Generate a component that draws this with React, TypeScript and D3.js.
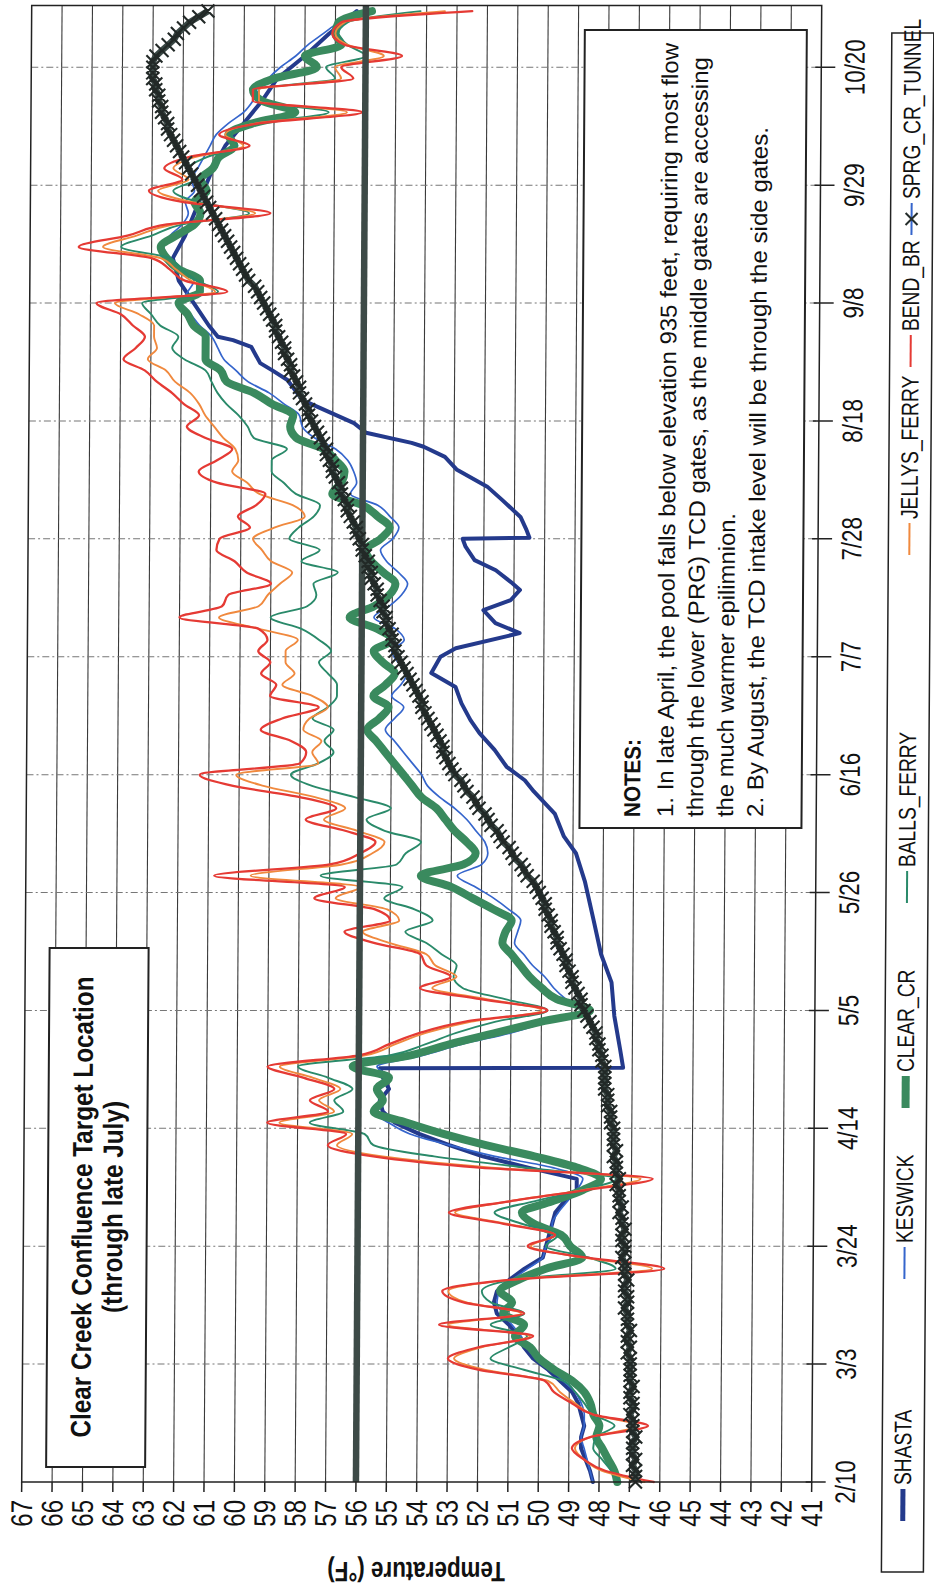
import React from 'react';
import * as d3 from 'd3';

// ---------- data ----------
const tempTicks = [67, 66, 65, 64, 63, 62, 61, 60, 59, 58, 57, 56, 55, 54, 53, 52, 51, 50, 49, 48, 47, 46, 45, 44, 43, 42, 41];
const dateLabels = ['2/10', '3/3', '3/24', '4/14', '5/5', '5/26', '6/16', '7/7', '7/28', '8/18', '9/8', '9/29', '10/20'];
const dateTickDays = [0, 21, 42, 63, 84, 105, 126, 147, 168, 189, 210, 231, 252];
const targetTemp = 56;

// values every 2 days starting 2/10
const keswick = [
  48.2, 48.3, 48.4, 48.5, 48.6, 48.5, 48.5, 48.6, 48.8, 49.2,
  49.6, 50.1, 50.4, 50.6, 50.9, 51.2, 51.4, 51.3, 50.9, 50.4,
  49.9, 49.8, 49.6, 49.6, 49.4, 49.1, 48.8, 48.6, 49.6, 51.5,
  53.0, 54.3, 55.0, 55.5, 55.2, 55.3, 55.0, 55.4, 53.9, 52.6,
  51.0, 49.8, 48.7, 49.2, 49.6, 49.9, 50.3, 50.6, 50.9, 50.8,
  50.7, 51.1, 51.6, 52.2, 52.8, 52.0, 51.8, 51.9, 52.2, 52.5,
  52.9, 53.4, 53.8, 54.0, 54.3, 54.6, 54.9, 55.2, 54.9, 54.6,
  55.0, 54.7, 54.5, 54.8, 55.0, 54.6, 54.9, 55.6, 55.1, 54.7,
  54.5, 54.8, 55.2, 55.4, 55.0, 54.8, 55.1, 55.5, 56.4, 56.2,
  56.3, 56.5, 56.9, 57.6, 58.0, 58.1, 58.6, 59.1, 59.8, 60.2,
  60.6, 60.8, 61.0, 61.4, 61.7, 62.0, 61.8, 61.6, 62.0, 62.4,
  62.6, 62.4, 62.0, 61.8, 61.9, 61.6, 61.7, 61.5, 61.3, 61.1,
  60.9, 60.5, 60.0, 59.7, 59.5, 59.2, 58.8, 58.3, 57.9, 57.4, 56.9, 56.3,
];
const clearCr = [
  47.4, 47.5, 47.7, 47.9, 48.1, 48.0, 48.2, 48.3, 48.5, 48.9,
  49.5, 50.0, 50.3, 50.8, 50.5, 51.2, 50.9, 51.3, 50.7, 49.8,
  48.6, 49.0, 49.3, 50.2, 50.6, 49.6, 48.6, 48.0, 48.8, 50.2,
  51.8, 53.2, 54.4, 55.5, 55.2, 55.4, 55.0, 56.2, 54.3, 53.0,
  51.5, 50.0, 48.4, 49.5, 50.0, 50.4, 50.7, 51.0, 51.3, 51.2,
  51.0, 51.6, 52.3, 53.0, 54.0, 52.6, 52.2, 52.5, 52.9, 53.2,
  53.5, 54.0, 54.3, 54.6, 54.9, 55.2, 55.5, 55.8, 55.4, 55.1,
  55.6, 55.2, 54.9, 55.3, 55.6, 55.0, 55.5, 56.4, 55.6, 55.1,
  54.9, 55.3, 55.7, 55.9, 55.4, 55.1, 55.5, 56.0, 57.0, 56.7,
  56.6, 56.9, 57.3, 58.2, 58.4, 58.3, 59.0, 59.6, 60.5, 60.7,
  61.2, 61.2, 61.2, 61.6, 61.8, 62.1, 61.4, 61.4, 62.1, 62.5,
  62.7, 62.2, 61.6, 61.4, 61.6, 61.2, 61.4, 61.0, 60.8, 60.3,
  60.5, 59.7, 58.3, 59.4, 59.7, 59.0, 57.6, 58.0, 56.8, 57.0, 56.9, 55.8,
];
const ballsFerry = [
  47.3, 47.6, 47.9, 48.2, 48.1, 47.5, 48.2, 48.5, 48.8, 49.2,
  50.5, 51.6, 51.0, 50.4, 51.6, 50.5, 51.6, 51.9, 50.9, 47.5,
  48.4, 49.8, 49.4, 50.6, 51.5, 50.2, 48.6, 47.5, 50.5, 53.5,
  55.5, 55.8, 57.6, 56.5, 56.8, 56.2, 57.0, 58.0, 55.0, 53.8,
  52.8, 51.5, 49.8, 51.2, 52.6, 52.9, 52.8, 53.3, 53.8, 54.5,
  53.6, 54.2, 55.2, 54.6, 57.3, 54.8, 54.5, 54.0, 55.2, 55.8,
  55.0, 56.2, 57.6, 58.3, 57.4, 56.9, 57.2, 56.9, 57.6, 57.1,
  56.8, 56.8, 57.1, 57.4, 57.0, 57.4, 58.0, 59.0, 57.8, 57.5,
  57.6, 56.8, 58.0, 57.4, 58.4, 58.1, 57.6, 57.4, 58.2, 58.6,
  59.0, 59.0, 58.5, 59.6, 59.8, 60.1, 60.5, 60.8, 61.0, 61.2,
  61.9, 62.3, 62.1, 62.7, 63.0, 63.3, 60.8, 61.5, 62.0, 62.4,
  64.0, 63.0, 62.0, 59.8, 61.5, 62.3, 61.6, 61.8, 61.2, 60.2,
  60.4, 59.6, 57.2, 59.5, 59.6, 57.0, 57.3, 56.0, 56.6, 56.9, 56.6, 54.2,
];
const jellysFerry = [
  46.5, 47.9, 48.5, 48.8, 48.3, 46.7, 48.2, 48.8, 49.3, 49.7,
  51.8, 52.8, 51.9, 50.3, 53.0, 50.6, 52.4, 53.0, 51.0, 46.3,
  48.6, 50.3, 49.5, 51.1, 52.8, 51.0, 48.6, 46.7, 51.6, 55.2,
  56.7, 56.2, 58.6, 56.8, 57.3, 56.6, 57.5, 58.6, 55.8, 54.8,
  53.8, 52.3, 50.0, 51.8, 53.6, 52.8, 53.5, 53.8, 55.0, 55.9,
  54.7, 55.1, 56.8, 56.0, 59.6, 56.6, 55.6, 55.2, 56.1, 57.2,
  56.5, 57.5, 59.2, 60.1, 57.4, 57.6, 57.3, 57.9, 57.7, 57.1,
  57.6, 58.6, 58.2, 58.5, 58.5, 58.1, 59.4, 60.7, 59.4, 59.1,
  58.7, 58.3, 59.0, 59.3, 59.6, 58.9, 57.9, 58.3, 59.4, 59.8,
  60.3, 60.1, 60.2, 60.6, 60.9, 61.2, 61.4, 61.7, 62.2, 62.5,
  63.1, 62.8, 62.9, 62.9, 63.4, 64.2, 60.9, 61.7, 62.2, 62.7,
  64.6, 63.5, 62.3, 59.6, 61.7, 62.8, 61.8, 62.3, 61.6, 60.0,
  60.6, 59.6, 56.6, 59.5, 59.5, 56.8, 57.0, 55.4, 56.6, 57.0, 56.7, 53.4,
];
const bendBr = [
  46.2, 47.8, 48.5, 48.9, 48.3, 46.4, 48.2, 48.9, 49.5, 49.8,
  52.0, 53.0, 52.0, 50.2, 53.3, 50.5, 52.5, 53.2, 51.0, 45.9,
  48.5, 50.4, 49.5, 51.2, 53.0, 51.0, 48.5, 46.3, 52.0, 55.5,
  57.0, 56.4, 59.0, 57.0, 57.6, 56.8, 57.8, 59.0, 56.0, 55.0,
  54.0, 52.5, 49.8, 52.0, 54.0, 53.0, 53.8, 54.0, 55.5, 56.5,
  55.0, 55.5, 57.5, 56.5, 60.8, 57.0, 56.0, 55.5, 56.5, 57.8,
  56.8, 58.0, 60.2, 61.3, 58.0, 57.8, 58.3, 59.3, 58.6, 57.4,
  59.0, 58.8, 59.3, 59.0, 59.4, 59.1, 59.4, 62.0, 60.6, 60.4,
  59.0, 59.8, 60.2, 60.8, 60.7, 59.7, 60.1, 59.5, 59.2, 60.8,
  61.4, 60.8, 60.3, 61.2, 61.8, 61.4, 61.9, 62.3, 62.8, 63.2,
  63.9, 63.5, 63.2, 63.6, 64.0, 64.8, 60.5, 61.9, 62.4, 63.0,
  65.4, 63.8, 62.5, 59.1, 62.0, 63.1, 62.0, 62.6, 61.8, 59.8,
  60.8, 59.5, 56.1, 59.7, 59.7, 56.4, 56.8, 54.8, 56.7, 57.1, 56.8, 52.5,
];
// [day after 2/10, temperature]
const shasta: [number, number][] = [
  [0, 48.2], [2, 48.3], [4, 48.45], [6, 48.6], [8, 48.6], [10, 48.5], [12, 48.6], [14, 48.7], [16, 48.9], [18, 49.3],
  [20, 49.7], [22, 50.2], [24, 50.5], [26, 50.7], [28, 51.0], [30, 51.4], [32, 51.5], [34, 51.4], [36, 51.0], [38, 50.5],
  [40, 49.9], [42, 49.8], [44, 49.7], [46, 49.6], [48, 49.5], [50, 49.2], [52, 48.8], [54, 48.8], [56, 50.4], [58, 51.9],
  [60, 53.0], [62, 54.0], [64, 54.8], [66, 55.2], [68, 55.3], [70, 55.0], [72, 55.2], [73.7, 55.3], [73.8, 47.3], [77, 47.4],
  [83, 47.6], [89, 47.7], [94, 48.05], [100, 48.3], [107, 48.6], [112, 48.9], [115, 49.3], [119, 49.6], [123, 50.3], [125, 50.6],
  [127.4, 51.2], [130.4, 51.6], [133.4, 52.1], [135.7, 52.4], [138.7, 52.7], [141.6, 52.9], [144.1, 53.7], [147, 53.4], [148.5, 52.9], [151.2, 50.8],
  [153, 51.6], [155.3, 52.0], [157.1, 51.1], [158.9, 50.8], [160.3, 51.1], [162.4, 51.6], [164.2, 52.3], [166.6, 52.6], [168.0, 52.7], [168.2, 50.5],
  [169.6, 50.6], [171.9, 50.8], [174.9, 51.4], [177.3, 51.9], [180.3, 52.9], [182.6, 53.3], [184.4, 54.0], [185.1, 54.4], [186.9, 55.9], [188.6, 56.3],
  [192.7, 58.0], [196.3, 58.5], [198, 59.0], [199.3, 59.4], [202.2, 59.7], [203.4, 60.3], [204, 60.8], [206, 61.1], [210, 61.6], [214, 62.1],
  [218, 62.3], [222, 61.9], [226, 61.6], [230, 61.3], [234, 61.0], [238, 60.6], [242, 60.0], [246, 59.4], [250, 58.9], [254, 58.0],
  [258, 57.2], [262, 56.3],
];
// daily values starting 2/10
const sprgCrTunnel = [
  46.8, 46.8, 46.8, 46.9, 46.8, 46.9, 46.9, 46.9, 46.8, 46.9, 46.9, 46.9, 47.0, 46.9, 46.9, 47.0, 47.0, 46.9, 47.0, 47.0, 47.0, 47.0,
  47.0, 47.1, 47.0, 47.1, 47.1, 47.0, 47.1, 47.1, 47.1, 47.2, 47.1, 47.1, 47.2, 47.2, 47.1, 47.2, 47.2, 47.2, 47.3, 47.2, 47.2,
  47.3, 47.3, 47.2, 47.3, 47.3, 47.4, 47.3, 47.4, 47.4, 47.4, 47.5, 47.4, 47.5, 47.5, 47.5, 47.6, 47.5, 47.6, 47.6, 47.6, 47.6,
  47.7, 47.7, 47.7, 47.8, 47.8, 47.8, 47.9, 47.9, 47.9, 47.9, 47.9, 48.0, 48.0, 48.1, 48.1, 48.2, 48.2, 48.3, 48.4, 48.5, 48.6,
  48.7, 48.7, 48.8, 48.9, 49.0, 49.0, 49.1, 49.2, 49.2, 49.3, 49.4, 49.5, 49.5, 49.6, 49.7, 49.7, 49.8, 49.9, 49.9, 50.0, 50.1,
  50.2, 50.3, 50.5, 50.6, 50.7, 50.9, 51.0, 51.1, 51.3, 51.4, 51.5, 51.7, 51.8, 51.9, 52.1, 52.2, 52.3, 52.5, 52.6, 52.7, 52.9,
  53.0, 53.1, 53.2, 53.3, 53.3, 53.4, 53.5, 53.6, 53.7, 53.8, 53.9, 54.0, 54.0, 54.1, 54.2, 54.3, 54.4, 54.5, 54.6, 54.7, 54.8,
  54.9, 54.9, 55.0, 55.0, 55.1, 55.2, 55.2, 55.3, 55.3, 55.4, 55.5, 55.5, 55.6, 55.7, 55.7, 55.8, 55.8, 55.9, 56.0, 56.0, 56.1,
  56.2, 56.2, 56.3, 56.4, 56.5, 56.5, 56.6, 56.7, 56.7, 56.8, 56.9, 57.0, 57.0, 57.1, 57.2, 57.2, 57.3, 57.4, 57.5, 57.6, 57.7,
  57.8, 57.8, 57.9, 58.0, 58.1, 58.1, 58.2, 58.3, 58.4, 58.4, 58.5, 58.6, 58.6, 58.7, 58.8, 58.9, 58.9, 59.0, 59.1, 59.2, 59.3,
  59.4, 59.5, 59.6, 59.8, 59.9, 60.0, 60.1, 60.2, 60.3, 60.4, 60.5, 60.6, 60.7, 60.8, 60.9, 61.0, 61.1, 61.2, 61.3, 61.4, 61.5,
  61.6, 61.7, 61.8, 61.9, 62.0, 62.1, 62.2, 62.3, 62.4, 62.5, 62.5, 62.6, 62.7, 62.7, 62.8, 62.8, 62.9, 62.9, 63.0, 63.0, 63.0,
  63.0, 62.9, 62.7, 62.5, 62.3, 62.2, 62.0, 61.8, 61.5, 61.2,
];

const notesLines = [
  '1. In late April, the pool falls below elevation 935 feet, requiring most flow',
  'through the lower (PRG) TCD gates, as the middle gates are accessing',
  'the much warmer epilimnion.',
  '2. By August, the TCD intake level will be through the side gates.',
];
const notesLengths = [774, 760, 304, 690];

const FONT = "'Liberation Sans', Arial, Helvetica, sans-serif";

export default function App() {
  const W = 934;
  const H = 1591;
  const k = 10 / 1476; // scan skew
  const x = d3.scaleLinear().domain([0, 263]).range([109, 1585.5]);
  const y = d3.scaleLinear().domain([41, 67]).range([811.7, 21.7]);
  const smooth = d3.line<[number, number]>().x(d => x(d[0])).y(d => y(d[1])).curve(d3.curveMonotoneX);
  const straight = d3.line<[number, number]>().x(d => x(d[0])).y(d => y(d[1]));
  const every2 = (arr: number[]) => arr.map((v, i) => [i * 2, v] as [number, number]);
  const daily = (arr: number[]) => arr.map((v, i) => [i, v] as [number, number]);

  const series = [
    { name: 'SHASTA', d: straight(shasta), color: '#243a8c', w: 4 },
    { name: 'KESWICK', d: smooth(every2(keswick)), color: '#3565cc', w: 1.7 },
    { name: 'CLEAR_CR', d: smooth(every2(clearCr)), color: '#3a8a5e', w: 8 },
    { name: 'BALLS_FERRY', d: smooth(every2(ballsFerry)), color: '#2a8a6a', w: 1.9 },
    { name: 'JELLYS_FERRY', d: smooth(every2(jellysFerry)), color: '#f0893e', w: 1.9 },
    { name: 'BEND_BR', d: smooth(every2(bendBr)), color: '#e53a34', w: 2.3 },
  ];
  const sprgPts = daily(sprgCrTunnel);
  const sprgLine = straight(sprgPts);

  const x0 = x.range()[0], x1 = x.range()[1];
  const y0 = y.range()[1], y1 = y.range()[0];

  const legend = [
    { name: 'SHASTA', color: '#243a8c', w: 5, u: 70 },
    { name: 'KESWICK', color: '#3565cc', w: 2, u: 312 },
    { name: 'CLEAR_CR', color: '#3a8a5e', w: 8, u: 483 },
    { name: 'BALLS_FERRY', color: '#2a8a6a', w: 2, u: 688 },
    { name: 'JELLYS_FERRY', color: '#f0893e', w: 2, u: 1036 },
    { name: 'BEND_BR', color: '#e53a34', w: 2, u: 1224 },
    { name: 'SPRG_CR_TUNNEL', color: '#3565cc', w: 2, u: 1356, marker: true },
  ];

  const xMark = (cx: number, cy: number, s: number) =>
    `M${cx - s},${cy - s}L${cx + s},${cy + s}M${cx - s},${cy + s}L${cx + s},${cy - s}`;

  return (
    <svg width={W} height={H} style={{ position: 'absolute', left: 0, top: 0, background: '#fff' }} fontFamily={FONT}>
      <rect x={0} y={0} width={W} height={H} fill="#fff" />
      <g transform={`matrix(1,0,${-k},1,${k * 1483},0) translate(0,${H}) rotate(-90)`}>
        {/* gridlines */}
        {tempTicks.filter(t => t !== 67 && t !== 41).map(t => (
          <line key={'tg' + t} x1={x0} x2={x1} y1={y(t)} y2={y(t)} stroke="#3a3a3a" strokeWidth={1.1} />
        ))}
        {dateTickDays.filter(dd => dd > 0).map(dd => (
          <line key={'dg' + dd} x1={x(dd)} x2={x(dd)} y1={y0} y2={y1} stroke="#777" strokeWidth={1} strokeDasharray="7,3,2,3" />
        ))}
        {/* title box */}
        <rect x={124} y={46} width={519} height={99} fill="#fff" stroke="#222" strokeWidth={2} />
        <text x={384} y={90} textAnchor="middle" fontWeight="bold" fontSize={28} textLength={461} lengthAdjust="spacingAndGlyphs" fill="#111">Clear Creek Confluence Target Location</text>
        <text x={384} y={120.5} textAnchor="middle" fontWeight="bold" fontSize={28} textLength={212} lengthAdjust="spacingAndGlyphs" fill="#111">(through late July)</text>
        {/* notes box */}
        <rect x={763} y={575} width={798} height={222} fill="#fff" stroke="#222" strokeWidth={2} />
        <text x={774} y={635.5} fontWeight="bold" fontSize={23} textLength={78} lengthAdjust="spacingAndGlyphs" fill="#111">NOTES:</text>
        {notesLines.map((s, i) => (
          <text key={'n' + i} x={774} y={668.5 + i * 30} fontSize={23} textLength={notesLengths[i]} lengthAdjust="spacingAndGlyphs" fill="#111">{s}</text>
        ))}
        {/* data */}
        {series.map(s => (
          <path key={s.name} d={s.d || ''} fill="none" stroke={s.color} strokeWidth={s.w} strokeLinejoin="round" strokeLinecap="round" />
        ))}
        <line x1={x0} x2={x1} y1={y(targetTemp)} y2={y(targetTemp)} stroke="#3d4a47" strokeWidth={6.5} />
        <path d={sprgLine || ''} fill="none" stroke="#3a4845" strokeWidth={6.5} />
        <path d={sprgPts.map(p => xMark(x(p[0]), y(p[1]), 6.5)).join('')} fill="none" stroke="#222927" strokeWidth={2.1} />
        {/* plot border */}
        <rect x={x0} y={y0} width={x1 - x0} height={y1 - y0} fill="none" stroke="#222" strokeWidth={1.5} />
        {/* temperature axis */}
        {tempTicks.map(t => (
          <g key={'tt' + t}>
            <line x1={x0 - 10} x2={x0} y1={y(t)} y2={y(t)} stroke="#222" strokeWidth={1.5} />
            <text transform={`translate(91,${y(t) + 10.5}) scale(0.8,1)`} textAnchor="end" fontSize={30} fill="#111">{t}</text>
          </g>
        ))}
        <text transform={`translate(29,${(y0 + y1) / 2}) rotate(-90) scale(0.8,1)`} textAnchor="middle" fontSize={28} fontWeight="bold" fill="#111">Temperature (°F)</text>
        {/* date axis */}
        {dateTickDays.map((dd, i) => (
          <g key={'dt' + dd}>
            <line x1={x(dd)} x2={x(dd)} y1={y1 - 6} y2={y1 + 14} stroke="#222" strokeWidth={1.5} />
            <text transform={`translate(${x(dd)},855) scale(0.8,1)`} textAnchor="middle" fontSize={28} fill="#111">{dateLabels[i]}</text>
          </g>
        ))}
        {/* legend */}
        <rect x={19} y={882} width={1539} height={42} fill="#fff" stroke="#222" strokeWidth={1.5} />
        {legend.map(l => (
          <g key={'lg' + l.name}>
            <line x1={l.u} x2={l.u + 32} y1={903} y2={903} stroke={l.color} strokeWidth={l.w} />
            {l.marker && <path d={xMark(l.u + 16, 903, 6)} stroke="#252d2b" strokeWidth={2} fill="none" />}
            <text transform={`translate(${l.u + 36},911) scale(0.8,1)`} fontSize={24} fill="#111">{l.name}</text>
          </g>
        ))}
      </g>
    </svg>
  );
}
